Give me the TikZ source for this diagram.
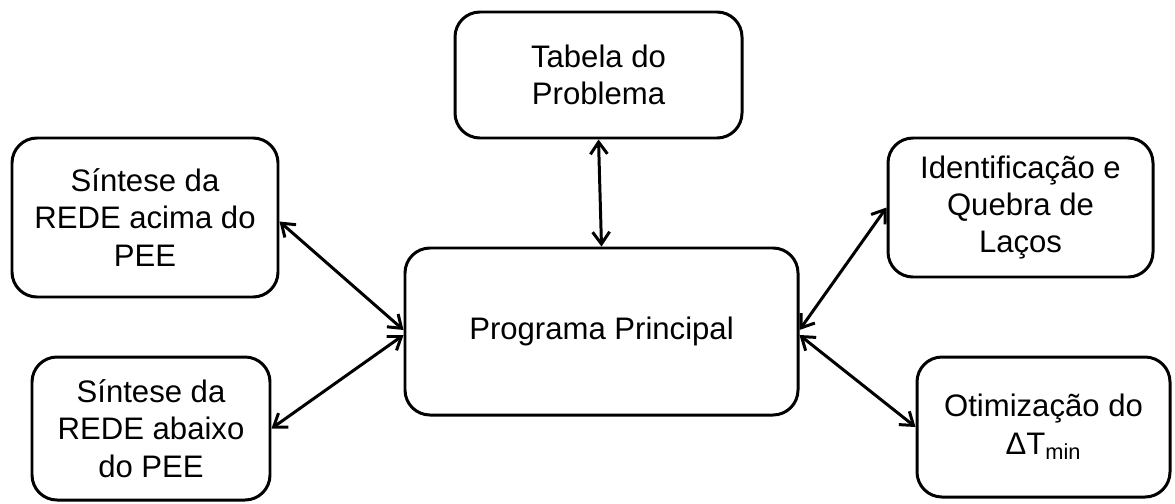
\documentclass[tikz,border=0pt]{standalone}
\usepackage{fontspec}
\setmainfont{Liberation Sans}
\usetikzlibrary{arrows.meta}
\tikzset{
	caixa/.style={draw, line width=1.7pt, rounded corners=0.5cm, align=center, font=\fontsize{17.7}{21.3}\selectfont},
	liga/.style={{Straight Barb[length=2.4mm,width=3.4mm]}-{Straight Barb[length=2.4mm,width=3.4mm]}, line width=1.7pt}
}

\begin{document}
\begin{tikzpicture}
			%%%%% START %%%%%
			\useasboundingbox (0, 0) rectangle (23.5, 10.06);
			
			\node[caixa, minimum width=5.74cm, minimum height=2.52cm] (tabela) at (11.97, 8.56) {Tabela do\\Problema};
			\node[caixa, minimum width=7.86cm, minimum height=3.34cm] (prog) at (12.03, 3.43) {Programa Principal};
			
			\node[caixa, minimum width=5.32cm, minimum height=3.18cm] (acima) at (2.9, 5.71) {Síntese da\\REDE acima do\\PEE};
			\node[caixa, minimum width=4.76cm, minimum height=2.86cm] (abaixo) at (3.02, 1.49) {Síntese da\\REDE abaixo\\do PEE};
			
			\node[caixa, minimum width=5.3cm, minimum height=2.78cm] (laco) at (20.41, 5.91) {Identificação e\\Quebra de\\Laços};
			\node[caixa, minimum width=5.06cm, minimum height=2.8cm] (otim) at (20.87, 1.52) {Otimização do\\ΔT\textsubscript{min}};
			
			\draw[liga] (tabela.south) -- (prog.north);
			\draw[liga] ([yshift=-0.08cm]acima.east) -- ([yshift=0.03cm]prog.west);
			\draw[liga] (abaixo.east) -- ([yshift=-0.07cm]prog.west);
			\draw[liga] ([yshift=0.03cm]prog.east) -- (laco.west);
			\draw[liga] ([yshift=-0.07cm]prog.east) -- (otim.west);
			
			%%%%% END %%%%%
		\end{tikzpicture}
\end{document}
